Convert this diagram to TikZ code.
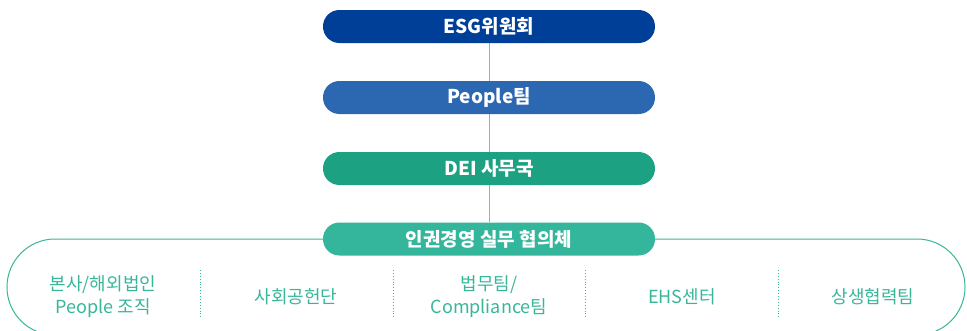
\documentclass[tikz,border=0pt]{standalone}
\usepackage{fontspec}
\setmainfont{Noto Sans CJK KR}
\usetikzlibrary{backgrounds}
\definecolor{cesg}{RGB}{0,63,152}
\definecolor{cpeople}{RGB}{44,104,177}
\definecolor{cdei}{RGB}{29,161,131}
\definecolor{chr}{RGB}{52,182,156}
\definecolor{cteal}{RGB}{56,182,154}
\definecolor{cline}{RGB}{170,170,170}
\tikzset{
  pill/.style={rectangle, rounded corners=16.4bp, minimum width=332bp, minimum height=33bp,
    inner sep=0pt, text=white, font=\fontsize{19bp}{22bp}\selectfont\bfseries},
  unit/.style={text=cteal, align=center, inner sep=0pt,
    font=\fontsize{18bp}{23bp}\selectfont},
  sep/.style={draw=cteal, line width=0.9bp, dotted},
  frame/.style={draw=cteal, line width=1bp, rounded corners=48bp, minimum width=958bp,
    minimum height=96bp, inner sep=0pt},
  conn/.style={draw=cline, line width=1bp}
}
\begin{document}
\begin{tikzpicture}[x=1bp,y=-1bp]
\useasboundingbox (0,0) rectangle (967,330);
\node[frame] (frame) at (486,287) {};
\node[pill, fill=cesg] (esg) at (489,26.5) {ESG위원회};
\node[pill, fill=cpeople] (people) at (489,97.5) {People팀};
\node[pill, fill=cdei] (dei) at (489,168.5) {DEI 사무국};
\node[pill, fill=chr] (hr) at (489,239) {인권경영 실무 협의체};
\begin{scope}[on background layer]
\draw[conn] (esg.south) -- (hr.north);
\end{scope}
\node[unit] (u1) at (103,296.5) {본사/해외법인\\People 조직};
\node[unit] (u2) at (296,297) {사회공헌단};
\node[unit] (u3) at (489,296.5) {법무팀/\\Compliance팀};
\node[unit] (u4) at (682,297) {EHS센터};
\node[unit] (u5) at (873,297) {상생협력팀};
\coordinate (s1a) at (200,270); \coordinate (s1b) at (200,318);
\coordinate (s2a) at (393,270); \coordinate (s2b) at (393,318);
\coordinate (s3a) at (585,270); \coordinate (s3b) at (585,318);
\coordinate (s4a) at (778,270); \coordinate (s4b) at (778,318);
\draw[sep] (s1a) -- (s1b);
\draw[sep] (s2a) -- (s2b);
\draw[sep] (s3a) -- (s3b);
\draw[sep] (s4a) -- (s4b);
\end{tikzpicture}
\end{document}
